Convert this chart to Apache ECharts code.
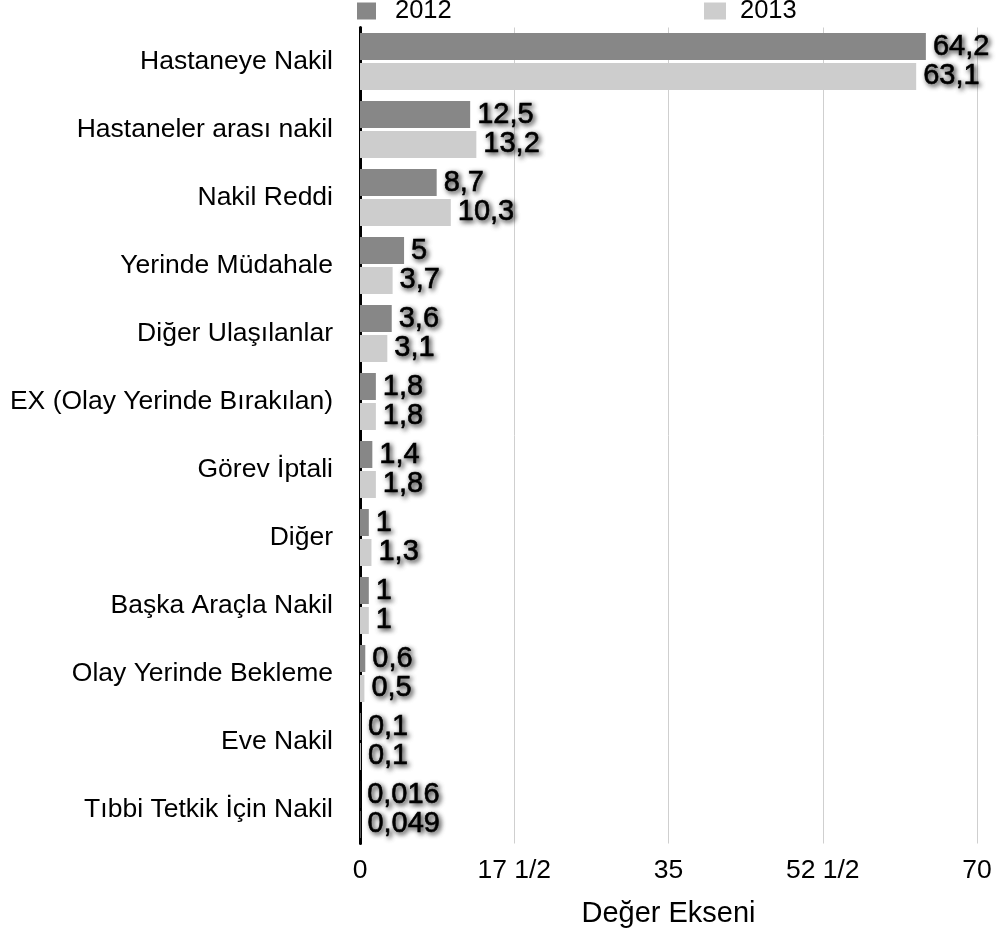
<!DOCTYPE html>
<html>
<head>
<meta charset="utf-8">
<script src="https://cdn.jsdelivr.net/npm/echarts@6/dist/echarts.min.js"></script>
<style>
html,body{margin:0;padding:0;background:#fff;}
#c{width:1002px;height:943px;}
</style>
</head>
<body>
<div id="c"></div>
<script>
var categories = ["Hastaneye Nakil","Hastaneler arası nakil","Nakil Reddi","Yerinde Müdahale","Diğer Ulaşılanlar","EX (Olay Yerinde Bırakılan)","Görev İptali","Diğer","Başka Araçla Nakil","Olay Yerinde Bekleme","Eve Nakil","Tıbbi Tetkik İçin Nakil"];
var values2012 = [64.2,12.5,8.7,5,3.6,1.8,1.4,1,1,0.6,0.1,0.016];
var values2013 = [63.1,13.2,10.3,3.7,3.1,1.8,1.8,1.3,1,0.5,0.1,0.049];
var tickValues = [0,17.5,35,52.5,70];
var tickLabels = ["0","17 1/2","35","52 1/2","70"];
var seriesNames = ["2012","2013"];

var FONT = '"Liberation Sans", Arial, Helvetica, sans-serif';
var chart = echarts.init(document.getElementById('c'), null, {renderer:'canvas'});
var labelStyle = {
  show:true, position:'right', distance:7,
  fontFamily:FONT, fontSize:29, color:'#000',
  textBorderColor:'#000', textBorderWidth:0.6,
  textShadowColor:'rgba(0,0,0,0.8)', textShadowBlur:5, textShadowOffsetX:2, textShadowOffsetY:2,
  formatter:function(p){return String(p.value).replace('.',',');}
};
chart.setOption({
  animation:false,
  backgroundColor:'#fff',
  legend:[
    {data:[seriesNames[0]], left:357, top:-2, padding:0, icon:'rect', itemWidth:19, itemHeight:17, itemGap:0,
     textStyle:{fontFamily:FONT, fontSize:25.5, color:'#000', padding:[0,0,0,14]}},
    {data:[seriesNames[1]], left:704, top:-2, padding:0, icon:'rect', itemWidth:22, itemHeight:17, itemGap:0,
     textStyle:{fontFamily:FONT, fontSize:25.5, color:'#000', padding:[0,0,0,9]}}
  ],
  grid:{left:360, right:25, top:27.5, bottom:99.5, containLabel:false},
  xAxis:{
    type:'value', min:0, max:70, interval:17.5,
    axisLine:{show:false}, axisTick:{show:false},
    splitLine:{show:true, lineStyle:{color:'#cfcfcf', width:1}},
    axisLabel:{fontFamily:FONT, fontSize:26.5, color:'#000', margin:14,
      formatter:function(v){var i=tickValues.indexOf(v);return i>=0?tickLabels[i]:'';}},
    name:'Değer Ekseni', nameLocation:'middle', nameGap:56,
    nameTextStyle:{fontFamily:FONT, fontSize:29, color:'#000'}
  },
  yAxis:{
    type:'category', data:categories, inverse:true,
    axisLine:{show:true, lineStyle:{color:'#000', width:3}},
    axisTick:{show:false},
    splitLine:{show:false},
    axisLabel:{fontFamily:FONT, fontSize:26.5, color:'#000', margin:27}
  },
  series:[
    {name:seriesNames[0], type:'bar', data:values2012, barWidth:27, barGap:'11%',
     itemStyle:{color:'#878787'}, label:labelStyle},
    {name:seriesNames[1], type:'bar', data:values2013, barWidth:27, barGap:'11%',
     itemStyle:{color:'#cdcdcd'}, label:labelStyle}
  ]
});
</script>
</body>
</html>
